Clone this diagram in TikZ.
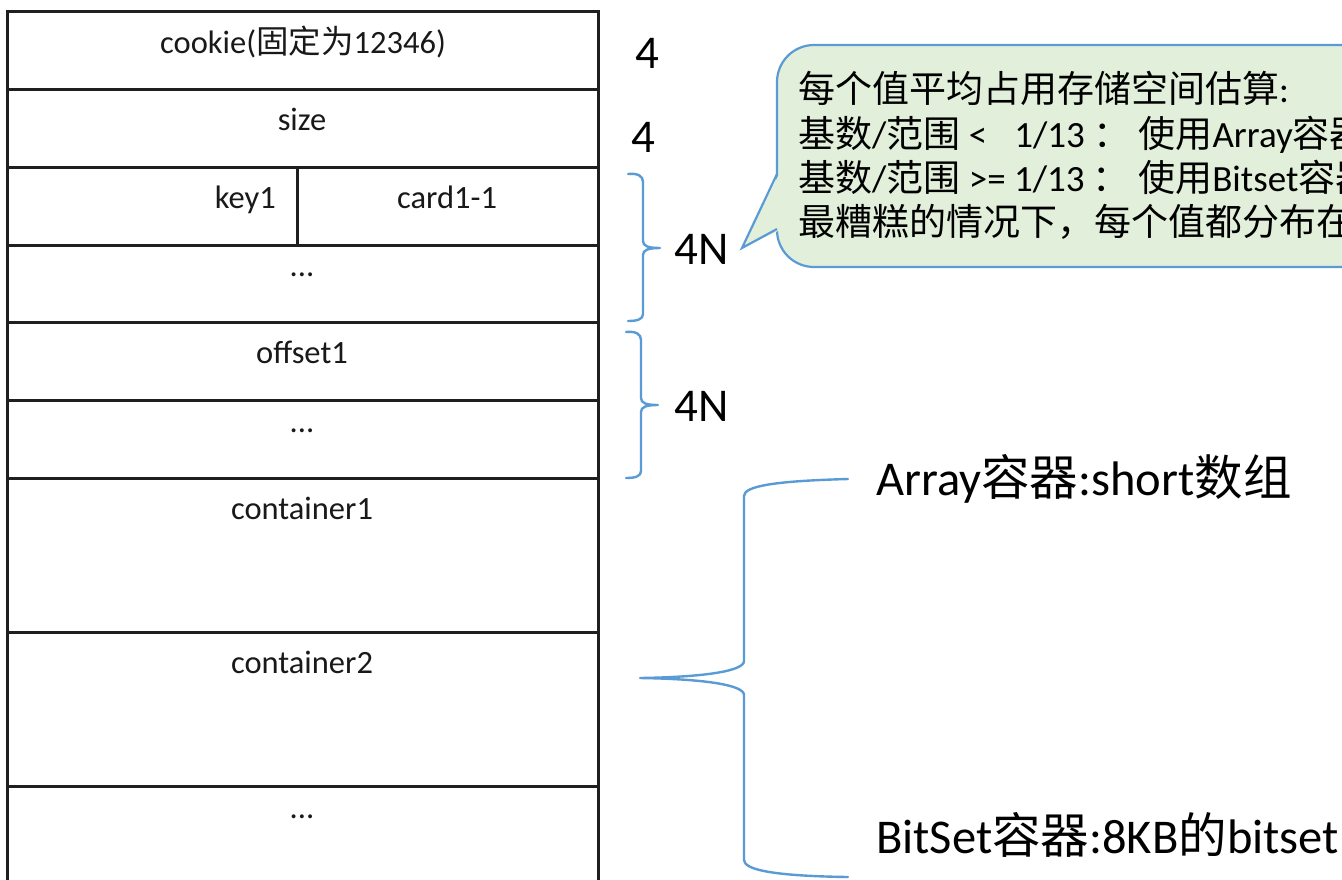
\documentclass[tikz,border=0pt]{standalone}
\usepackage{fontspec}
\setmainfont{Carlito}
\newfontfamily\cjk{Noto Sans CJK SC}
\definecolor{braceblue}{HTML}{5B9BD5}
\definecolor{notegreen}{HTML}{E2EFDA}
\begin{document}
\begin{tikzpicture}[x=1pt,y=-1pt,
  grid/.style={line width=3pt, draw=black!88},
  cell/.style={font=\fontsize{32.5}{38}\selectfont, inner sep=0pt, anchor=base, text=black!90},
  sizelabel/.style={font=\fontsize{47}{56}\selectfont, inner sep=0pt, anchor=base west},
  bracepath/.style={draw=braceblue, line width=2.4pt, line cap=round, line join=round},
  noteline/.style={draw=braceblue, line width=2.2pt},
  notetext/.style={font=\fontsize{37}{44}\selectfont, inner sep=0pt, anchor=base west},
  kindlabel/.style={font=\fontsize{48.5}{58}\selectfont, inner sep=0pt, anchor=base west}]

\useasboundingbox (0,0) rectangle (1342,879);
\clip (0,0) rectangle (1342,879);
\fill[white] (0,0) rectangle (1342,879);

% memory layout table
\draw[grid] (7,890) -- (7,11) -- (598,11) -- (598,890);
\foreach \yy in {89,167,245,322,400,478,632,786}
  \draw[grid] (7,\yy) -- (598,\yy);
\draw[grid] (297,167) -- (297,245);

\node[cell] (cookie) at (303,53) {cookie({\cjk 固定为}12346)};
\node[cell] (size) at (302,130) {size};
\node[cell, anchor=base east] (key) at (276,208) {key1};
\node[cell] (card) at (447,208) {card1-1};
\node[cell] (dotsA) at (302,276) {...};
\node[cell] (offset) at (302,363) {offset1};
\node[cell] (dotsB) at (302,432) {...};
\node[cell] (cont1) at (302,519) {container1};
\node[cell] (cont2) at (302,673) {container2};
\node[cell] (dotsC) at (302,818) {...};

% byte counts
\node[sizelabel] (fourA) at (635,68) {4};
\node[sizelabel] (fourB) at (631,152) {4};
\node[sizelabel] (fourNA) at (674,264) {4N};
\node[sizelabel] (fourNB) at (674,421) {4N};

% braces next to the key/offset blocks
\draw[bracepath] (628,174) .. controls (638,173) and (643,176) .. (643,182)
  -- (643,241) .. controls (643,246) and (648,248) .. (660,248)
  .. controls (648,248) and (643,250) .. (643,255)
  -- (643,314) .. controls (643,319) and (638,321) .. (628,321);
\draw[bracepath] (626,332) .. controls (636,331) and (641,334) .. (641,340)
  -- (641,398) .. controls (641,403) and (646,405) .. (658,405)
  .. controls (646,405) and (641,407) .. (641,412)
  -- (641,471) .. controls (641,476) and (636,478) .. (626,478);

% large brace for the containers
\draw[bracepath] (848,479) .. controls (775,481) and (744,486) .. (744,496)
  -- (744,661) .. controls (744,671) and (705,677) .. (640,678)
  .. controls (705,679) and (744,685) .. (744,695)
  -- (744,860) .. controls (744,870) and (775,876) .. (848,877);

% callout
\draw[noteline, fill=notegreen, rounded corners=37pt] (777,45) rectangle (1420,267);
\fill[notegreen] (742,248) -- (780,172) -- (780,230) -- cycle;
\draw[noteline, line join=miter] (777,174) -- (742,248) -- (777,229);

\node[notetext] (noteA) at (798,102) {{\cjk 每个值平均占用存储空间估算}:};
\node[notetext] (noteB) at (798,147) {{\cjk 基数}/{\cjk 范围} <\hspace{27pt}1/13 {\cjk ：} {\cjk 使用}Array{\cjk 容器}};
\node[notetext] (noteC) at (798,191) {{\cjk 基数}/{\cjk 范围} >= 1/13 {\cjk ：} {\cjk 使用}Bitset{\cjk 容器}};
\node[notetext] (noteD) at (798,235) {\cjk 最糟糕的情况下，每个值都分布在};

% container kinds
\node[kindlabel] (arrayKind) at (876,495) {Array{\cjk 容器}:short{\cjk 数组}};
\node[kindlabel] (bitsetKind) at (876,853) {BitSet{\cjk 容器}:8KB{\cjk 的}bitset};
\end{tikzpicture}
\end{document}
